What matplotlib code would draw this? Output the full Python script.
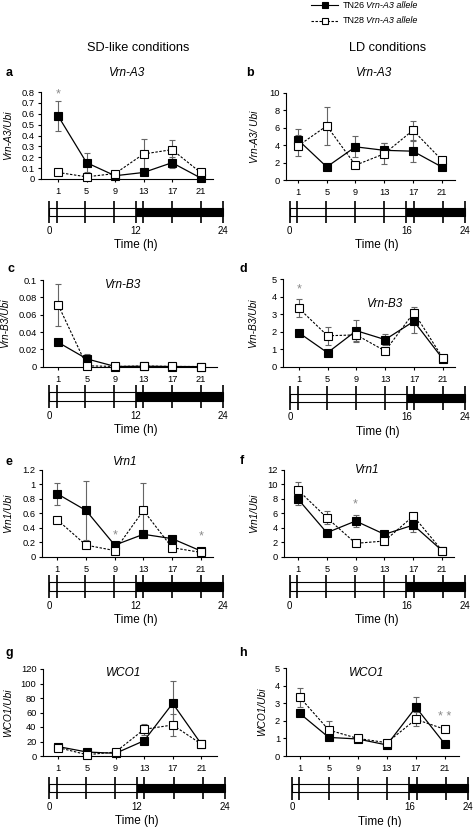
import numpy as np
import matplotlib as mpl
mpl.use("Agg")
import matplotlib.pyplot as plt
import matplotlib.ticker as ticker
from matplotlib.patches import Rectangle

# ---- data ----
hours = [1, 5, 9, 13, 17, 21]

vrna3_sd_tn26 = [0.58, 0.15, 0.03, 0.06, 0.15, 0.01]
vrna3_sd_tn26_err = [0.135, 0.085, 0.01, 0.02, 0.05, 0.01]
vrna3_sd_tn28 = [0.06, 0.02, 0.05, 0.23, 0.27, 0.06]
vrna3_sd_tn28_err = [0.02, 0.01, 0.01, 0.135, 0.09, 0.02]

vrna3_ld_tn26 = [4.6, 1.5, 3.8, 3.4, 3.3, 1.5]
vrna3_ld_tn26_err = [1.2, 0.3, 1.2, 0.8, 1.2, 0.3]
vrna3_ld_tn28 = [3.9, 6.2, 1.7, 3.0, 5.7, 2.3]
vrna3_ld_tn28_err = [1.2, 2.2, 0.3, 1.2, 1.1, 0.3]

vrnb3_sd_tn26 = [0.028, 0.009, 0.0002, 0.0005, 0.0002, 0.0001]
vrnb3_sd_tn26_err = [0.002, 0.006, 0.0, 0.0005, 0.0, 0.0]
vrnb3_sd_tn28 = [0.071, 0.001, 0.0003, 0.0008, 0.0003, 0.0002]
vrnb3_sd_tn28_err = [0.024, 0.001, 0.0, 0.0, 0.0, 0.0]

vrnb3_ld_tn26 = [1.95, 0.8, 2.06, 1.55, 2.6, 0.45]
vrnb3_ld_tn26_err = [0.15, 0.1, 0.6, 0.3, 0.7, 0.1]
vrnb3_ld_tn28 = [3.35, 1.77, 1.82, 0.9, 3.1, 0.5]
vrnb3_ld_tn28_err = [0.5, 0.5, 0.42, 0.15, 0.3, 0.1]

vrn1_sd_tn26 = [0.87, 0.64, 0.16, 0.31, 0.25, 0.08]
vrn1_sd_tn26_err = [0.155, 0.41, 0.03, 0.05, 0.03, 0.02]
vrn1_sd_tn28 = [0.51, 0.16, 0.085, 0.64, 0.125, 0.06]
vrn1_sd_tn28_err = [0.04, 0.03, 0.02, 0.375, 0.03, 0.02]

vrn1_ld_tn26 = [7.98, 3.32, 4.94, 3.1, 4.38, 0.83]
vrn1_ld_tn26_err = [0.85, 0.3, 0.85, 0.4, 0.9, 0.2]
vrn1_ld_tn28 = [9.23, 5.4, 1.85, 2.17, 5.63, 0.83]
vrn1_ld_tn28_err = [1.15, 0.9, 0.2, 0.3, 0.4, 0.2]

wco1_sd_tn26 = [12.9, 5.5, 3.7, 21.1, 72.6, 16.5]
wco1_sd_tn26_err = [3, 2, 1, 3, 31, 3]
wco1_sd_tn28 = [11.5, 1.8, 5.5, 36.8, 42.8, 16.5]
wco1_sd_tn28_err = [3, 1, 1, 8, 15, 3]

wco1_ld_tn26 = [2.43, 1.06, 0.97, 0.63, 2.78, 0.68]
wco1_ld_tn26_err = [0.1, 0.1, 0.05, 0.05, 0.6, 0.05]
wco1_ld_tn28 = [3.35, 1.48, 1.0, 0.76, 2.09, 1.52]
wco1_ld_tn28_err = [0.55, 0.5, 0.05, 0.1, 0.4, 0.1]

W, H = 474, 827
GRAY = "#8a8a8a"
ERR = "#666666"

plt.rcParams.update({
    "font.family": ["Liberation Sans", "DejaVu Sans"],
    "font.size": 7,
})

fig = plt.figure(figsize=(W / 100, H / 100), dpi=100)


def px_axes(left, top, right, bottom):
    return fig.add_axes([left / W, 1 - bottom / H, (right - left) / W, (bottom - top) / H])


def ftext(x, y, s, **kw):
    fig.text(x / W, 1 - y / H, s, **kw)


# panels: letter, gene, ylabel, tn26, tn26 err, tn28, tn28 err, ytop, ystep, asterisks,
# layout (left, top, right, bottom, xmin, xmax), title pos, bar (left, right, tick top, tick bottom, dark start)
panels = [
    dict(letter="a", gene="Vrn-A3", ylab="Vrn-A3/Ubi",
         a=vrna3_sd_tn26, ae=vrna3_sd_tn26_err, b=vrna3_sd_tn28, be=vrna3_sd_tn28_err,
         ytop=0.8, ystep=0.1, stars=[(1, "*", 0.78)],
         box=(41, 92, 213, 179, -1.4, 22.75), lpos=(6, 73), tpos=(127, 73), ylx=8,
         bar=(49.3, 222.7, 200.5, 223.3, 12)),
    dict(letter="b", gene="Vrn-A3", ylab="Vrn-A3/ Ubi",
         a=vrna3_ld_tn26, ae=vrna3_ld_tn26_err, b=vrna3_ld_tn28, be=vrna3_ld_tn28_err,
         ytop=10, ystep=2, stars=[],
         box=(286, 92.7, 455, 180, -0.67, 22.85), lpos=(246, 73), tpos=(374, 73), ylx=255.5,
         bar=(289.7, 464.7, 200.5, 223.3, 16)),
    dict(letter="c", gene="Vrn-B3", ylab="Vrn-B3/Ubi",
         a=vrnb3_sd_tn26, ae=vrnb3_sd_tn26_err, b=vrnb3_sd_tn28, be=vrnb3_sd_tn28_err,
         ytop=0.1, ystep=0.02, stars=[],
         box=(43.3, 280, 216.7, 366.7, -1.1, 23.2), lpos=(7, 268.7), tpos=(123, 285), ylx=5,
         bar=(49.3, 222.7, 385, 408.3, 12)),
    dict(letter="d", gene="Vrn-B3", ylab="Vrn-B3/Ubi",
         a=vrnb3_ld_tn26, ae=vrnb3_ld_tn26_err, b=vrnb3_ld_tn28, be=vrnb3_ld_tn28_err,
         ytop=5, ystep=1, stars=[(1, "*", 4.4)],
         box=(282.7, 279.3, 455, 366.7, -1.22, 22.7), lpos=(239.5, 268.7), tpos=(385, 304), ylx=253,
         bar=(290.3, 464.7, 386, 410, 16)),
    dict(letter="e", gene="Vrn1", ylab="Vrn1/Ubi",
         a=vrn1_sd_tn26, ae=vrn1_sd_tn26_err, b=vrn1_sd_tn28, be=vrn1_sd_tn28_err,
         ytop=1.2, ystep=0.2, stars=[(9, "*", 0.3), (21, "*", 0.28)],
         box=(41.7, 470, 213, 556.7, -1.18, 22.7), lpos=(5.5, 461.7), tpos=(125, 461.7), ylx=8,
         bar=(49.3, 222.7, 575, 598.3, 12)),
    dict(letter="f", gene="Vrn1", ylab="Vrn1/Ubi",
         a=vrn1_ld_tn26, ae=vrn1_ld_tn26_err, b=vrn1_ld_tn28, be=vrn1_ld_tn28_err,
         ytop=12, ystep=2, stars=[(9, "*", 7.3)],
         box=(283.7, 470, 453.7, 556.7, -0.98, 22.6), lpos=(239.5, 461), tpos=(367, 470), ylx=254,
         bar=(289.7, 464.7, 575, 598.3, 16)),
    dict(letter="g", gene="WCO1", ylab="WCO1/Ubi",
         a=wco1_sd_tn26, ae=wco1_sd_tn26_err, b=wco1_sd_tn28, be=wco1_sd_tn28_err,
         ytop=120, ystep=20, stars=[],
         box=(42.7, 669, 217, 756, -1.19, 23.2), lpos=(5.5, 653), tpos=(124, 672.7), ylx=8,
         bar=(49.3, 225, 776.7, 799.3, 12)),
    dict(letter="h", gene="WCO1", ylab="WCO1/Ubi",
         a=wco1_ld_tn26, ae=wco1_ld_tn26_err, b=wco1_ld_tn28, be=wco1_ld_tn28_err,
         ytop=5, ystep=1, stars=[(21, "* *", 2.2)],
         box=(286.3, 668.3, 458.7, 756, -0.85, 22.9), lpos=(239.5, 653), tpos=(367, 672.7), ylx=262,
         bar=(292, 468, 776.7, 800, 16)),
]

for p in panels:
    left, top, right, bottom, xmin, xmax = p["box"]
    ax = px_axes(left, top, right, bottom)
    ax.errorbar(hours, p["a"], yerr=p["ae"], fmt="none", ecolor=ERR, elinewidth=0.8,
                capsize=2.3, capthick=0.8, zorder=2)
    ax.errorbar(hours, p["b"], yerr=p["be"], fmt="none", ecolor=ERR, elinewidth=0.8,
                capsize=2.3, capthick=0.8, zorder=2)
    ax.plot(hours, p["a"], "-", color="black", lw=0.9, marker="s", ms=5.6,
            mfc="black", mec="black", mew=0.8, zorder=3, clip_on=False)
    ax.plot(hours, p["b"], color="black", lw=0.8, ls=(0, (2.2, 1.4)), marker="s", ms=5.6,
            mfc="white", mec="black", mew=0.8, zorder=4, clip_on=False)

    ax.set_xlim(xmin, xmax)
    ax.set_ylim(0, p["ytop"])
    ax.set_xticks(hours)
    ax.set_xticklabels([str(h) for h in hours])
    yt = np.round(np.arange(0, p["ytop"] + p["ystep"] / 2, p["ystep"]), 4)
    ax.set_yticks(yt)
    ax.yaxis.set_major_formatter(ticker.FuncFormatter(lambda v, _: f"{v:g}"))
    for s in ["top", "right"]:
        ax.spines[s].set_visible(False)
    for s in ["left", "bottom"]:
        ax.spines[s].set_linewidth(0.8)
    ax.tick_params(axis="both", direction="out", length=2.5, width=0.8, labelsize=6.7, pad=2)
    ax.tick_params(axis="x", pad=3.5)
    ax.patch.set_alpha(0)

    for x, s, y in p["stars"]:
        ax.text(x, y, s, ha="center", va="center", color=GRAY, fontsize=9)

    # texts
    ftext(p["lpos"][0], p["lpos"][1], p["letter"], fontsize=9, fontweight="bold",
          ha="left", va="center")
    ftext(p["tpos"][0], p["tpos"][1], p["gene"], fontsize=8.5, style="italic",
          ha="center", va="center")
    ftext(p["ylx"], (top + bottom) / 2, p["ylab"], fontsize=7.3, style="italic",
          rotation=90, ha="center", va="center")

    # light/dark bar
    bl, br, bt, bb, dark = p["bar"]
    bx = px_axes(bl, bt, br, bb)
    bx.set_xlim(0, 24)
    bx.set_ylim(0, 1)
    bx.axis("off")
    bx.add_patch(Rectangle((0, 0.33), dark, 0.35, facecolor="white", edgecolor="black",
                           lw=0.8, clip_on=False))
    bx.add_patch(Rectangle((dark, 0.33), 24 - dark, 0.35, facecolor="black",
                           edgecolor="black", lw=0.8, clip_on=False))
    for x in [0] + hours + [dark, 24]:
        bx.plot([x, x], [0, 1], color="black", lw=1.2, clip_on=False, solid_capstyle="butt")
    cx = (bl + br) / 2
    for x in [0, dark, 24]:
        ftext(bl + (br - bl) * x / 24, bb + 7.5, str(x), fontsize=7, ha="center", va="center")
    ftext(cx, bb + 21.5, "Time (h)", fontsize=8.5, ha="center", va="center")

# column headings
ftext(138, 48, "SD-like conditions", fontsize=9.2, ha="center", va="center")
ftext(387.7, 48, "LD conditions", fontsize=9.2, ha="center", va="center")

# legend
lx0, lx1 = 311, 338
for yy, ls, fc, name in [(5, "-", "black", "TN26"), (20.7, (0, (2.2, 1.4)), "white", "TN28")]:
    fig.add_artist(plt.Line2D([lx0 / W, lx1 / W], [1 - yy / H, 1 - yy / H], color="black",
                              lw=0.8, ls=ls))
    fig.add_artist(plt.Line2D([(lx0 + lx1) / 2 / W], [1 - yy / H], marker="s", ms=5,
                              mfc=fc, mec="black", mew=0.8, ls="none"))
    ftext(342.7, yy, name, fontsize=6.5, ha="left", va="center")
    ftext(366.5, yy, "Vrn-A3 allele", fontsize=6.5, style="italic", ha="left", va="center")

fig.savefig("out.png", dpi=100)
